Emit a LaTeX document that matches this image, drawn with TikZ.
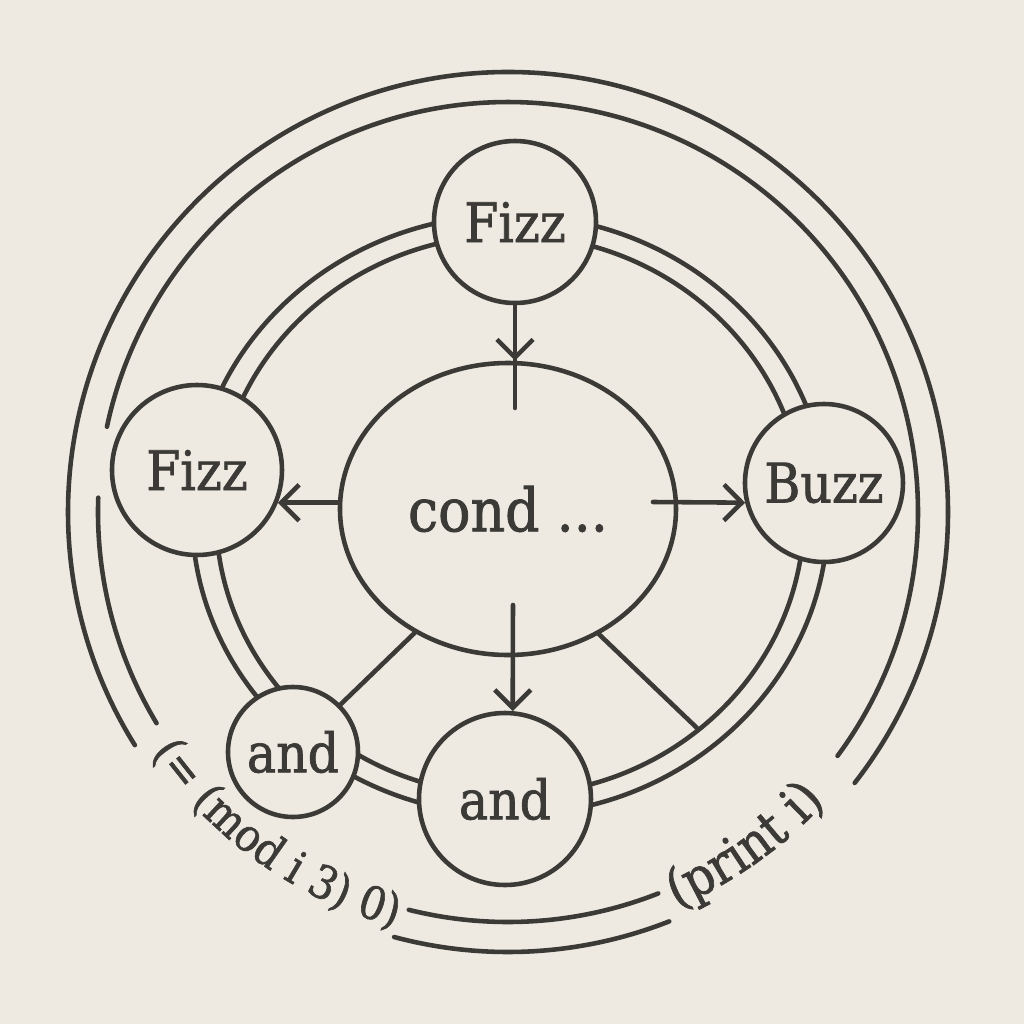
\documentclass[tikz,border=0pt]{standalone}
\usepackage{fontspec}
\newfontfamily\lblfont[FakeStretch=0.9,FakeBold=1.3]{DejaVu Serif}
\usetikzlibrary{arrows.meta,calc,decorations.text,shapes.geometric}
\definecolor{paper}{HTML}{EEEAE2}
\definecolor{ink}{HTML}{3B3A36}
\newcommand\nodefont{\lblfont\fontsize{15.5}{18}\selectfont}
\newcommand\condfont{\lblfont\fontsize{17}{20}\selectfont}
\newcommand\arcfont{\lblfont\fontsize{13}{16}\selectfont}
\newcommand\printfont{\lblfont\fontsize{15}{18}\selectfont}
\tikzset{
  bubble/.style={circle, draw=ink, fill=paper, line width=1.3pt, inner sep=0pt, text=ink, font=\nodefont},
  ring/.style={draw=ink, line width=1.3pt, line cap=round},
  link/.style={draw=ink, line width=1.3pt, line cap=round},
  arr/.style={link, -{Straight Barb[length=1.8mm,width=3.6mm]}},
  arctext/.style={decorate, decoration={text along path, text align=left, text color=ink}}
}
\begin{document}
\begin{tikzpicture}
	\fill[paper] (-5.12,-5.12) rectangle (5.12,5.12);
	\useasboundingbox (-5.12,-5.12) rectangle (5.12,5.12);
	\coordinate (O) at (-0.04,0);
	% outer double ring, open at the two labels
	\draw[ring] ($(O)+(-38:4.40)$) arc[start angle=-38, end angle=212, radius=4.40];
	\draw[ring] ($(O)+(-36.5:4.10)$) arc[start angle=-36.5, end angle=168, radius=4.10];
	\draw[ring] ($(O)+(178:4.10)$) arc[start angle=178, end angle=211, radius=4.10];
	\draw[ring] ($(O)+(255:4.40)$) arc[start angle=255, end angle=291.5, radius=4.40];
	\draw[ring] ($(O)+(256:4.10)$) arc[start angle=256, end angle=291.5, radius=4.10];
	\path[arctext, decoration={text={|\arcfont|(= (mod i 3) 0)}}] ($(O)+(214:4.30)$) arc[start angle=214, end angle=262, radius=4.30];
	\path[arctext, decoration={text={|\printfont|(print i)}}] ($(O)+(293:4.30)$) arc[start angle=293, end angle=345, radius=4.30];
	% inner double ring
	\draw[ring] (-0.02,-0.03) ellipse [x radius=3.18, y radius=3.00];
	\draw[ring] (-0.02,-0.03) ellipse [x radius=2.94, y radius=2.80];
	\node[bubble, minimum size=1.62cm] (fizzT) at (0.03,2.90) {Fizz};
	\node[bubble, minimum size=1.70cm] (fizzL) at (-3.15,0.42) {Fizz\hspace{2mm}};
	\node[bubble, minimum size=1.58cm] (buzz) at (3.12,0.29) {Buzz};
	\node[bubble, minimum size=1.30cm] (andL) at (-2.19,-2.40) {and};
	\node[bubble, minimum size=1.72cm] (andB) at (-0.07,-2.87) {and};
	\node[bubble, ellipse, minimum width=3.36cm, minimum height=2.92cm, font=\condfont] (cond) at (-0.04,0.03) {cond ...};
	\coordinate (tEnd) at (0.03,1.04);
	\coordinate (rStart) at (1.41,0.10);
	\coordinate (dStart) at (0.01,-0.93);
	\coordinate (spokeR) at (1.85,-2.16);
	\draw[link] (fizzT) -- (tEnd);
	\draw[arr] (fizzT) -- (fizzT |- cond.north);
	\draw[arr] (cond.west |- fizzL.-22) -- (fizzL.-22);
	\draw[arr] (rStart) -- (buzz.194);
	\draw[arr] (dStart) -- (andB.85);
	\draw[link] (cond.233) -- (andL.45);
	\draw[link] (cond.306) -- (spokeR);
\end{tikzpicture}
\end{document}
